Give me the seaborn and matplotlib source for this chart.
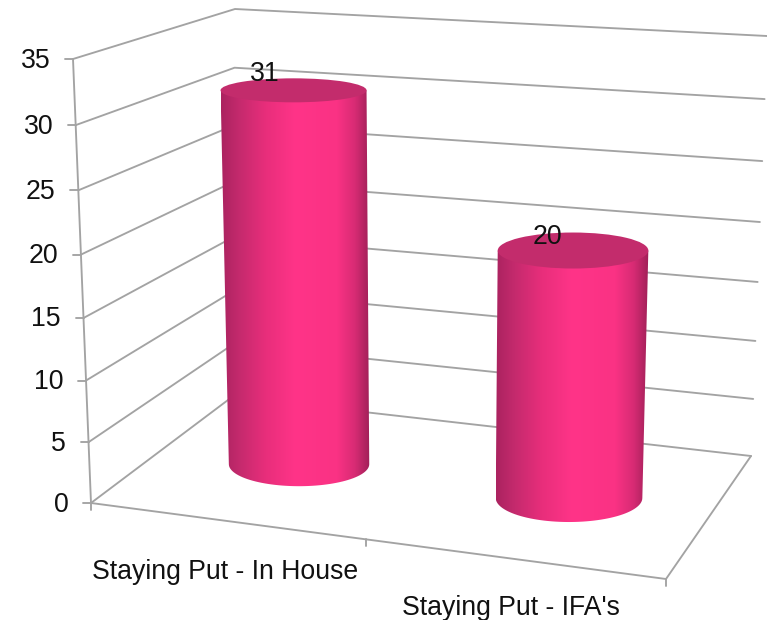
import numpy as np
import pandas as pd
import matplotlib
matplotlib.use('Agg')
import matplotlib.pyplot as plt
from matplotlib.colors import LinearSegmentedColormap
from matplotlib.patches import Ellipse, PathPatch
from matplotlib.path import Path
import seaborn as sns

##################################################################
categories = ["Staying Put - In House", "Staying Put - IFA's"]
values = [31, 20]
tick_values = [0, 5, 10, 15, 20, 25, 30, 35]
ymax = 35

##################################################################
#### picture geometry, pixels: the edges of the 3d box (bottom, top, perspective)
W, H = 767, 620
edge_front = [(91, 503), (73, 59), 1.05]
edge_back = [(232, 397), (235, 9), 1.07]
edge_right = [(751, 456), (767, 36), 1.06]
floor = [(91, 503), (232, 397), (751, 456), (666, 579)]
px_per_unit = [12.06, 12.375]
base_shift = [(5, 1.5), (2.5, 2)]
top_rx = [73, 75.3]
top_ry = [12, 18]
top_shift = [-5.5, 4]
base_rx = [70.2, 73.3]
base_ry = [22, 24]
label_off = [(-29, -16), (-26, -14)]
cat_label_xy = [(225.5, 572), (511, 608)]

grey = '#a3a3a3'
fz = 19.2
sns.set_theme(style='white')
plt.rcParams['font.family'] = ['Liberation Sans', 'DejaVu Sans']


def on_edge(edge, t):
    ## position of a value on one of the vertical box edges
    v = t / ymax
    s = v / (v + (1 - v) * edge[2])
    return (edge[0][0] + s * (edge[1][0] - edge[0][0]),
            edge[0][1] + s * (edge[1][1] - edge[0][1]))


def homography(corners):
    ## maps unit square (0,0) (0,1) (1,1) (1,0) onto the four corners
    src = [(0, 0), (0, 1), (1, 1), (1, 0)]
    A, b = [], []
    for (u, v), (x, y) in zip(src, corners):
        A.append([u, v, 1, 0, 0, 0, -u * x, -v * x])
        A.append([0, 0, 0, u, v, 1, -u * y, -v * y])
        b += [x, y]
    h = np.linalg.solve(np.array(A, float), np.array(b, float))
    M = np.append(h, 1).reshape(3, 3)

    def f(u, v):
        p = M @ np.array([u, v, 1.0])
        return p[0] / p[2], p[1] / p[2]
    return f


flr = homography(floor)

##################################################################
#### gridlines, long form table for lineplot
rows = []
def add_line(name, pts):
    for i, (x, y) in enumerate(pts):
        rows.append({'line': name, 'order': i, 'px': x, 'py': y})

for t in tick_values:
    tx, ty = on_edge(edge_front, t)
    add_line('grid%d' % t, [(tx, ty), on_edge(edge_back, t), on_edge(edge_right, t)])
    add_line('tick%d' % t, [(tx - 8, ty), (tx, ty)])
add_line('vert', [on_edge(edge_front, 0), on_edge(edge_front, ymax)])
add_line('front', [floor[0], floor[3]])
add_line('side', [floor[3], floor[2]])
for i in range(len(categories) + 1):
    x, y = flr(i / len(categories), 0)
    add_line('xtick%d' % i, [(x, y), (x, y + 7)])
df = pd.DataFrame(rows)

##################################################################
plt.close('all')
fig = plt.figure(figsize=[W / 100, H / 100], dpi=100)
ax = fig.add_axes([0, 0, 1, 1])
sns.lineplot(data=df, x='px', y='py', units='line', estimator=None, sort=False,
             color=grey, linewidth=1.35, ax=ax, legend=False)
ax.set_xlim(0, W)
ax.set_ylim(H, 0)
ax.axis('off')

#### one small axes per bar, so each has its own scale for its depth
bar_tops = []
centers = []
for i, (cat, val) in enumerate(zip(categories, values)):
    cx, cy = flr((i + 0.5) / len(categories), 0.5)
    cx, cy = cx + base_shift[i][0], cy + base_shift[i][1]
    centers.append((cx, cy))
    bw = base_rx[i] * 2
    ah = ymax * px_per_unit[i]
    bax = fig.add_axes([(cx - bw / 2) / W, (H - cy) / H, bw / W, ah / H])
    sns.barplot(x=[cat], y=[val], width=0.85, color='#f03080', ax=bax)
    bax.set_xlim(-0.5, 0.5)
    bax.set_ylim(0, ymax)
    bax.axis('off')
    bar_tops.append(cy - bax.patches[0].get_height() * px_per_unit[i])

#### cylinders go on a top layer with pixel coordinates
top = fig.add_axes([0, 0, 1, 1])
top.set_xlim(0, W)
top.set_ylim(H, 0)
top.axis('off')
top.patch.set_alpha(0)

cmap = LinearSegmentedColormap.from_list('cyl', [(0, '#ab2360'), (0.12, '#c42a6d'), (0.3, '#e82e7b'),
                                                 (0.5, '#ff3488'), (0.78, '#fa3284'), (0.9, '#d82b74'),
                                                 (1, '#a02058')])
grad = np.linspace(0, 1, 256).reshape(1, -1)
theta = np.linspace(np.pi, 0, 60)
for i, val in enumerate(values):
    cx, cy = centers[i]
    ty = bar_tops[i]
    tcx = cx + top_shift[i]
    arc = [(cx + base_rx[i] * np.cos(t), cy + base_ry[i] * np.sin(t)) for t in theta]
    pts = [(tcx - top_rx[i], ty)] + arc + [(tcx + top_rx[i], ty), (tcx - top_rx[i], ty)]
    body = PathPatch(Path(pts), transform=top.transData, fc='none', ec='none')
    top.add_patch(body)
    x0 = min(tcx - top_rx[i], cx - base_rx[i])
    x1 = max(tcx + top_rx[i], cx + base_rx[i])
    im = top.imshow(grad, cmap=cmap, aspect='auto', extent=[x0, x1, cy + base_ry[i] + 1, ty], zorder=2)
    im.set_clip_path(body)
    top.add_patch(Ellipse((tcx, ty), top_rx[i] * 2, top_ry[i] * 2, fc='#c32c6c', ec='none', zorder=3))
    top.text(tcx + label_off[i][0], ty + label_off[i][1], str(val), fontsize=fz, color='#111111',
             ha='center', va='center', zorder=4)
top.set_xlim(0, W)
top.set_ylim(H, 0)

##################################################################
for t in tick_values:
    tx, ty = on_edge(edge_front, t)
    top.text(tx - 22.5, ty + 1.5, str(t), fontsize=fz, color='#111111', ha='right', va='center')
for cat, (lx, ly) in zip(categories, cat_label_xy):
    top.text(lx, ly, cat, fontsize=fz, color='#111111', ha='center', va='center')

plt.savefig('out.png', dpi=100)
